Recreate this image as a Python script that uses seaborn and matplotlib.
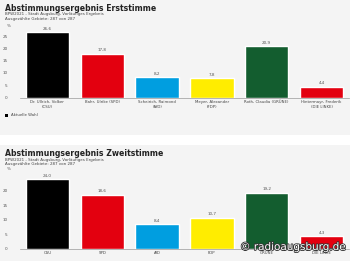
import matplotlib
matplotlib.use("Agg")
import matplotlib.pyplot as plt
import seaborn as sns
import pandas as pd
from matplotlib.patches import Rectangle
import matplotlib.patheffects as pe

sns.set_style("white")
plt.rcParams['font.family'] = ['DejaVu Sans']

# Data
erst_labels = ["Dr. Ullrich, Volker\n(CSU)", "Bahr, Ulrike (SPD)", "Scheirich, Raimond\n(AfD)",
               "Meyer, Alexander\n(FDP)", "Roth, Claudia (GRÜNE)", "Hintermayr, Frederik\n(DIE LINKE)"]
erst_values = [26.6, 17.8, 8.2, 7.8, 20.9, 4.4]
zweit_labels = ["CSU", "SPD", "AfD", "FDP", "GRÜNE", "DIE LINKE"]
zweit_values = [24.0, 18.6, 8.4, 10.7, 19.2, 4.3]
party_colors = ["#000000", "#e3000f", "#009ee0", "#ffed00", "#135d2f", "#e3000f"]

bg = "#f4f4f4"
fig = plt.figure(figsize=(3.5, 2.61), dpi=100)
fig.patch.set_facecolor(bg)
fig.patches.append(Rectangle((0, 1 - 145/261), 1, 10/261, transform=fig.transFigure,
                             facecolor="white", edgecolor="none", zorder=0))

def fmt(v):
    return f"{v:.1f}".replace(".", ",")

AX_L = 20
AX_W = 329

def panel(top_px, bottom_px, labels, values, ymax, ticks):
    rect = [AX_L/350, 1 - bottom_px/261, AX_W/350, (bottom_px - top_px)/261]
    ax = fig.add_axes(rect)
    ax.set_facecolor(bg)
    df = pd.DataFrame({"label": labels, "value": values})
    sns.barplot(data=df, x="label", y="value", hue="label", palette=party_colors,
                legend=False, ax=ax, width=0.79, saturation=1)
    for p, v in zip(ax.patches, values):
        ax.text(p.get_x() + p.get_width()/2, v + ymax*0.02, fmt(v), ha="center", va="bottom",
                fontsize=3, color="#555555")
    ax.set_xlim(-0.5, len(labels) - 0.5)
    ax.set_ylim(0, ymax)
    ax.set_yticks(ticks)
    ax.set_yticklabels([str(t) for t in ticks], fontsize=3, color="#555555")
    ax.tick_params(axis="y", length=0, pad=9)
    ax.tick_params(axis="x", length=0, pad=2)
    ax.set_xticks(range(len(labels)))
    ax.set_xticklabels(labels, fontsize=2.8, color="#444444", linespacing=1.1)
    ax.set_xlabel("")
    ax.set_ylabel("")
    for s in ["top", "right", "left"]:
        ax.spines[s].set_visible(False)
    ax.spines["bottom"].set_color("#999999")
    ax.spines["bottom"].set_linewidth(0.5)
    ax.text((7 - AX_L)/AX_W, 1.0, "%", transform=ax.transAxes, fontsize=3, color="#555555",
            ha="left", va="bottom")
    return ax

ax1 = panel(28, 97.5, erst_labels, erst_values, 28.3, [0, 5, 10, 15, 20, 25])
ax2 = panel(170.5, 248.5, zweit_labels, zweit_values, 27.0, [0, 5, 10, 15, 20])

# Titles
sub = "BPW2021 - Stadt Augsburg, Vorläufiges Ergebnis\nAusgezählte Gebiete: 287 von 287"
fig.text(5/350, 1 - 4/261, "Abstimmungsergebnis Erststimme", fontsize=5.6, fontweight="bold",
         color="#222222", va="top", ha="left")
fig.text(5/350, 1 - 12.5/261, sub, fontsize=2.9, color="#444444", va="top", ha="left", linespacing=1.1)
fig.text(5/350, 1 - 149/261, "Abstimmungsergebnis Zweitstimme", fontsize=5.6, fontweight="bold",
         color="#222222", va="top", ha="left")
fig.text(5/350, 1 - 157.5/261, sub, fontsize=2.9, color="#444444", va="top", ha="left", linespacing=1.1)

# Legend
fig.patches.append(Rectangle((5/350, 1 - 117/261), 3/350, 3/261, transform=fig.transFigure,
                             facecolor="black", edgecolor="none"))
fig.text(11/350, 1 - 115.5/261, "Aktuelle Wahl", fontsize=2.8, color="#444444", va="center", ha="left")

# Watermark
fig.text(346/350, 1 - 247/261, "© radioaugsburg.de", fontsize=7.5, color="white", ha="right",
         va="center", path_effects=[pe.withStroke(linewidth=1.2, foreground="#333333")])

fig.savefig("out.png", dpi=100, facecolor=fig.get_facecolor())
